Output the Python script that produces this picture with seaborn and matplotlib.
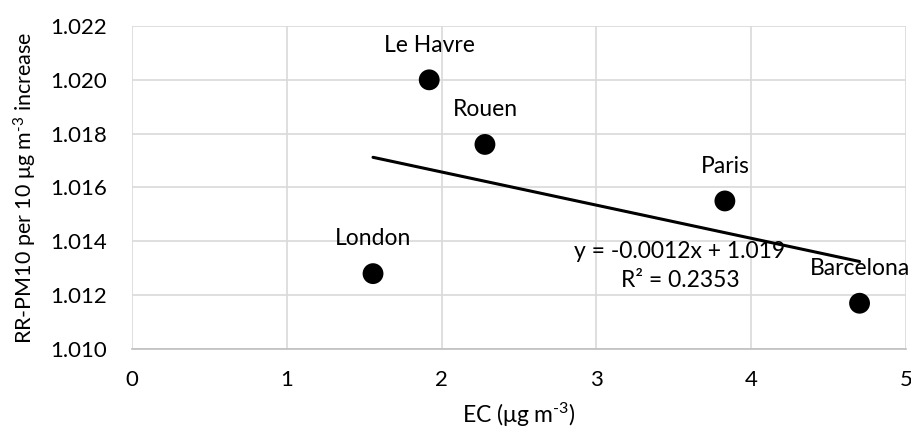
import numpy as np
import pandas as pd
import matplotlib
matplotlib.use("Agg")
import matplotlib.pyplot as plt
import seaborn as sns

cities = ["London", "Le Havre", "Rouen", "Paris", "Barcelona"]
ec = [1.557, 1.92, 2.28, 3.83, 4.70]
rr = [1.0128, 1.0200, 1.0176, 1.0155, 1.0117]
x_ticks = [0, 1, 2, 3, 4, 5]
y_ticks = [1.010, 1.012, 1.014, 1.016, 1.018, 1.020, 1.022]
eq_text = "y = -0.0012x + 1.019"
r2_text = "R² = 0.2353"

df = pd.DataFrame({"city": cities, "ec": ec, "rr": rr})

sns.set_theme(style="white")
plt.rcParams['font.family'] = ['Lato', 'DejaVu Sans']
plt.rcParams['mathtext.fontset'] = 'custom'
plt.rcParams['mathtext.rm'] = 'Lato'
plt.rcParams['mathtext.it'] = 'Lato:italic'
plt.rcParams['text.color'] = 'black'
plt.rcParams['axes.labelcolor'] = 'black'

fig = plt.figure(figsize=(9.11, 4.37), dpi=100)
ax = fig.add_axes([132/911, 1-349/437, (906-132)/911, (349-26)/437])

grid_c = "#d9d9d9"
sns.regplot(data=df, x="ec", y="rr", ax=ax, ci=None, truncate=True,
            scatter_kws=dict(s=225, color="black", edgecolor="none", alpha=1, zorder=3),
            line_kws=dict(color="black", lw=2.2, zorder=4))

for c, x, y in zip(cities, ec, rr):
    ax.annotate(c, (x, y), xytext=(0, 25), textcoords="offset points",
                ha="center", va="center", fontsize=16.5, color="black", zorder=5)

ax.text(3.54, 1.01363, eq_text, ha="center", va="center", fontsize=16.5, color="black", zorder=5)
ax.text(3.54, 1.01253, r2_text, ha="center", va="center", fontsize=16.5, color="black", zorder=5)

ax.set_xlim(0, 5)
ax.set_ylim(1.010, 1.022)
ax.set_xticks(x_ticks)
ax.set_yticks(y_ticks)
ax.set_xticklabels([str(t) for t in x_ticks])
ax.set_yticklabels([f"{t:.3f}" for t in y_ticks])
ax.tick_params(axis="both", length=0, labelsize=16, colors="black")
ax.tick_params(axis="y", pad=18)
ax.tick_params(axis="x", pad=15)
ax.grid(True, color=grid_c, lw=1.2)
ax.set_axisbelow(True)
for s in ["top", "right", "left"]:
    ax.spines[s].set_visible(False)
ax.spines["bottom"].set_color("#bfbfbf")
ax.spines["bottom"].set_linewidth(1.2)

ax.set_xlabel(r"EC (μg m$^{\text{-3}}$)", fontsize=16.5, labelpad=8)
ax.set_ylabel(r"RR-PM10 per 10 μg m$^{\text{-3}}$ increase", fontsize=15.5, labelpad=8)

fig.savefig("out.png", dpi=100)
